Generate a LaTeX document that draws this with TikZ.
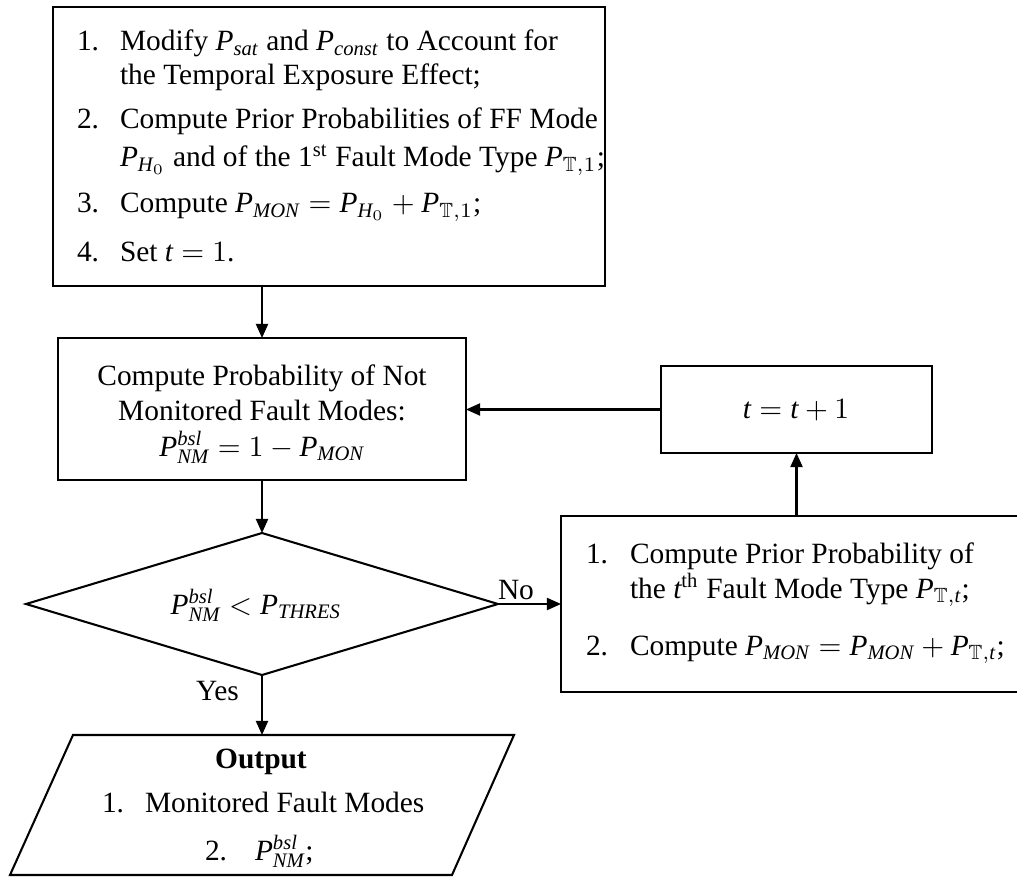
\documentclass[tikz,border=0pt]{standalone}
\usepackage{amsmath,amssymb}
\usepackage{fontspec}
\setmainfont{Liberation Serif}
\usetikzlibrary{shapes.geometric,arrows.meta,fit}
% italic letters in formulas taken from the text face
\newcommand\vi[1]{\mathit{#1}}

\begin{document}
\begin{tikzpicture}[x=0.34pt,y=-0.34pt,
  every node/.style={font=\fontsize{10}{12}\selectfont, inner sep=0pt, outer sep=0pt},
  box/.style={draw, line width=0.7pt},
  arr/.style={line width=0.7pt, -{Triangle[length=4.8pt,width=4.1pt]}},
  lt/.style={anchor=base west},
  ct/.style={anchor=base}]

% canvas
\useasboundingbox (0,0) rectangle (1017,877);
\fill[white] (0,0) rectangle (1017,877);
\clip (0,0) rectangle (1017,877);

% initialisation block
\node[box, fit={(53,7) (605,286)}] (init) {};
\node[lt] (i1n) at (77,51)  {1.};
\node[lt] (i1a) at (120,51) {Modify $\vi{P}_{\vi{sat}}$ and $\vi{P}_{\vi{const}}$ to Account for};
\node[lt] (i1b) at (120,85) {the Temporal Exposure Effect;};
\node[lt] (i2n) at (77,129) {2.};
\node[lt] (i2a) at (120,129) {Compute Prior Probabilities of FF Mode};
\node[lt] (i2b) at (120,167) {$\vi{P}_{\vi{H}_0}$ and of the 1\textsuperscript{st} Fault Mode Type $\vi{P}_{\mathbb{T},1}$;};
\node[lt] (i3n) at (77,213) {3.};
\node[lt] (i3a) at (120,213) {Compute $\vi{P}_{\vi{MON}} = \vi{P}_{\vi{H}_0} + \vi{P}_{\mathbb{T},1}$;};
\node[lt] (i4n) at (77,262) {4.};
\node[lt] (i4a) at (120,262) {Set $\vi{t} = 1$.};

% probability of not monitored modes
\node[box, fit={(58,338) (466,480)}] (mid) {};
\node[ct] (m1) at (262,385) {Compute Probability of Not};
\node[ct] (m2) at (262,420) {Monitored Fault Modes:};
\node[ct] (m3) at (262,456) {$\vi{P}^{\vi{bsl}}_{\vi{NM}} = 1 - \vi{P}_{\vi{MON}}$};

% counter update
\node[box, fit={(661,366) (932,453)}] (tbox) {};
\node[ct] (tt) at (796,418) {$\vi{t} = \vi{t} + 1$};

% next fault mode type
\node[box, fit={(561,516) (1022,692)}] (rbox) {};
\node[lt] (r1n) at (586,563) {1.};
\node[lt] (r1a) at (630,563) {Compute Prior Probability of};
\node[lt] (r1b) at (630,598) {the $\vi{t}^{\mathrm{th}}$ Fault Mode Type $\vi{P}_{\mathbb{T},\vi{t}}$;};
\node[lt] (r2n) at (586,655) {2.};
\node[lt] (r2a) at (630,655) {Compute $\vi{P}_{\vi{MON}} = \vi{P}_{\vi{MON}} + \vi{P}_{\mathbb{T},\vi{t}}$;};

% threshold test
\node[draw, diamond, line width=0.7pt, minimum width=472*0.34pt,
      minimum height=142*0.34pt] (dec) at (262,604) {};
\node[ct] (dt) at (256,614) {$\vi{P}^{\vi{bsl}}_{\vi{NM}} < \vi{P}_{\vi{THRES}}$};

% output block
\coordinate (o1) at (73,735);
\coordinate (o2) at (514,735);
\coordinate (o3) at (452,875);
\coordinate (o4) at (10,875);
\coordinate (outtop) at (262,735);
\draw[line width=0.7pt, line join=miter] (o1) -- (o2) -- (o3) -- (o4) -- cycle;
\node[ct] (ot) at (261,768) {\bfseries Output};
\node[lt] (o1n) at (102,812) {1.};
\node[lt] (o1a) at (145,812) {Monitored Fault Modes};
\node[lt] (o2n) at (205,860) {2.};
\node[lt] (o2a) at (255,860) {$\vi{P}^{\vi{bsl}}_{\vi{NM}}$;};

% connectors
\draw[arr] (mid.north |- init.south) -- (mid.north);
\draw[arr] (mid.south) -- (dec.north);
\draw[arr] (tbox.west) -- (mid.east |- tbox.west);
\draw[arr] (tbox.south |- rbox.north) -- (tbox.south);
\draw[arr] (dec.east) -- (rbox.west);
\draw[arr] (dec.south) -- (outtop);
\node[lt] (no) at (498,599) {No};
\node[lt] (yes) at (196,700) {Yes};
\end{tikzpicture}
\end{document}
